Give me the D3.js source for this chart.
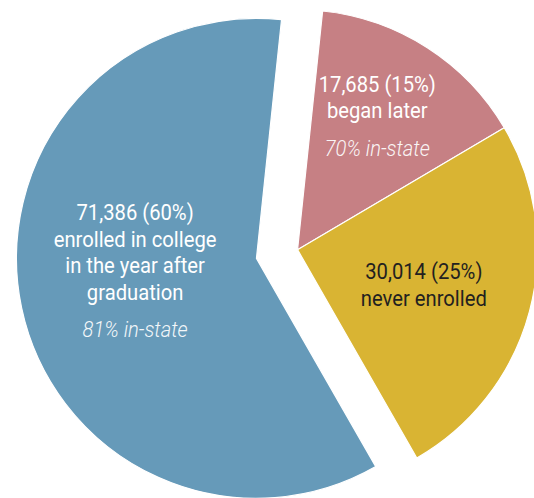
<!DOCTYPE html>
<html>
<head>
<meta charset="utf-8">
<script src="https://cdn.jsdelivr.net/npm/d3@7/dist/d3.min.js"></script>
<style>
  html, body { margin: 0; padding: 0; background: #ffffff; }
  svg { display: block; }
  text { font-family: Roboto, "Open Sans", sans-serif; }
</style>
</head>
<body>
<div id="chart"></div>
<script>
// Outcomes for the graduating class, in pie order (clockwise from the top)
const categories = ["began later", "never enrolled", "enrolled in college in the year after graduation"];
const counts = [17685, 30014, 71386];
const shares = [15, 25, 60];
const inStateShares = [70, null, 81];
const labelLines = [
  ["began later"],
  ["never enrolled"],
  ["enrolled in college", "in the year after", "graduation"]
];
// Slices that are pulled out together from the rest of the pie
const explodeGroups = [1, 1, 0];
const colors = ["#c68084", "#d9b433", "#669ab9"];
const labelColors = ["#ffffff", "#231f20", "#ffffff"];

const width = 534, height = 498;
const cx = 277, cy = 254, radius = 240, explode = 21;
const startAngle = 6 * Math.PI / 180;

const svg = d3.select("#chart").append("svg")
  .attr("width", width)
  .attr("height", height);

const pie = d3.pie()
  .sort(null)
  .value((d, i) => counts[i])
  .startAngle(startAngle)
  .endAngle(startAngle + 2 * Math.PI);

const arcs = pie(categories);
const arc = d3.arc().innerRadius(0).outerRadius(radius);

// Mid angle of each explode group decides which way its slices move
const groupAngle = {};
d3.groups(arcs.map((a, i) => ({ a, g: explodeGroups[i] })), d => d.g).forEach(([g, items]) => {
  const s = d3.min(items, d => d.a.startAngle);
  const e = d3.max(items, d => d.a.endAngle);
  groupAngle[g] = (s + e) / 2;
});

const fmt = d3.format(",");
const fontSize = 22.2, condense = 0.91;
const lineH = 26.5, italicGap = 37.5, capH = 16;

// Label anchors: radius from the slice vertex and a small angular nudge (degrees)
const labelPos = [
  { r: 156, nudge: -2 },
  { r: 131, nudge: 0.6 },
  { r: 122, nudge: 6 }
];

const slices = svg.selectAll("g.slice")
  .data(arcs)
  .join("g")
  .attr("class", "slice")
  .attr("transform", (d, i) => {
    const ang = groupAngle[explodeGroups[i]];
    const x = cx + explode * Math.sin(ang);
    const y = cy - explode * Math.cos(ang);
    return `translate(${x},${y})`;
  });

slices.append("path")
  .attr("d", arc)
  .attr("fill", (d, i) => colors[i])
  .attr("stroke", "#ffffff")
  .attr("stroke-width", 1.2)
  .attr("stroke-linejoin", "round");

slices.each(function (d, i) {
  const g = d3.select(this);
  const mid = (d.startAngle + d.endAngle) / 2 + labelPos[i].nudge * Math.PI / 180;
  const ax = labelPos[i].r * Math.sin(mid);
  const ay = -labelPos[i].r * Math.cos(mid);

  const lines = [`${fmt(counts[i])} (${shares[i]}%)`].concat(labelLines[i]);
  const hasItalic = inStateShares[i] != null;
  const span = (lines.length - 1) * lineH + (hasItalic ? italicGap : 0);
  const firstBase = ay - span / 2 + capH / 2;

  // Narrow the type horizontally for a condensed look
  const lg = g.append("g")
    .attr("transform", `translate(${ax},0) scale(${condense},1)`);

  lines.forEach((line, k) => {
    lg.append("text")
      .attr("text-anchor", "middle")
      .attr("fill", labelColors[i])
      .attr("x", 0)
      .attr("y", firstBase + k * lineH)
      .style("font-size", fontSize + "px")
      .text(line);
  });

  if (hasItalic) {
    lg.append("text")
      .attr("text-anchor", "middle")
      .attr("fill", labelColors[i])
      .attr("x", 0)
      .attr("y", firstBase + (lines.length - 1) * lineH + italicGap)
      .style("font-size", fontSize + "px")
      .style("font-style", "italic")
      .style("font-weight", 300)
      .style("opacity", 0.92)
      .text(`${inStateShares[i]}% in-state`);
  }
});
</script>
</body>
</html>
